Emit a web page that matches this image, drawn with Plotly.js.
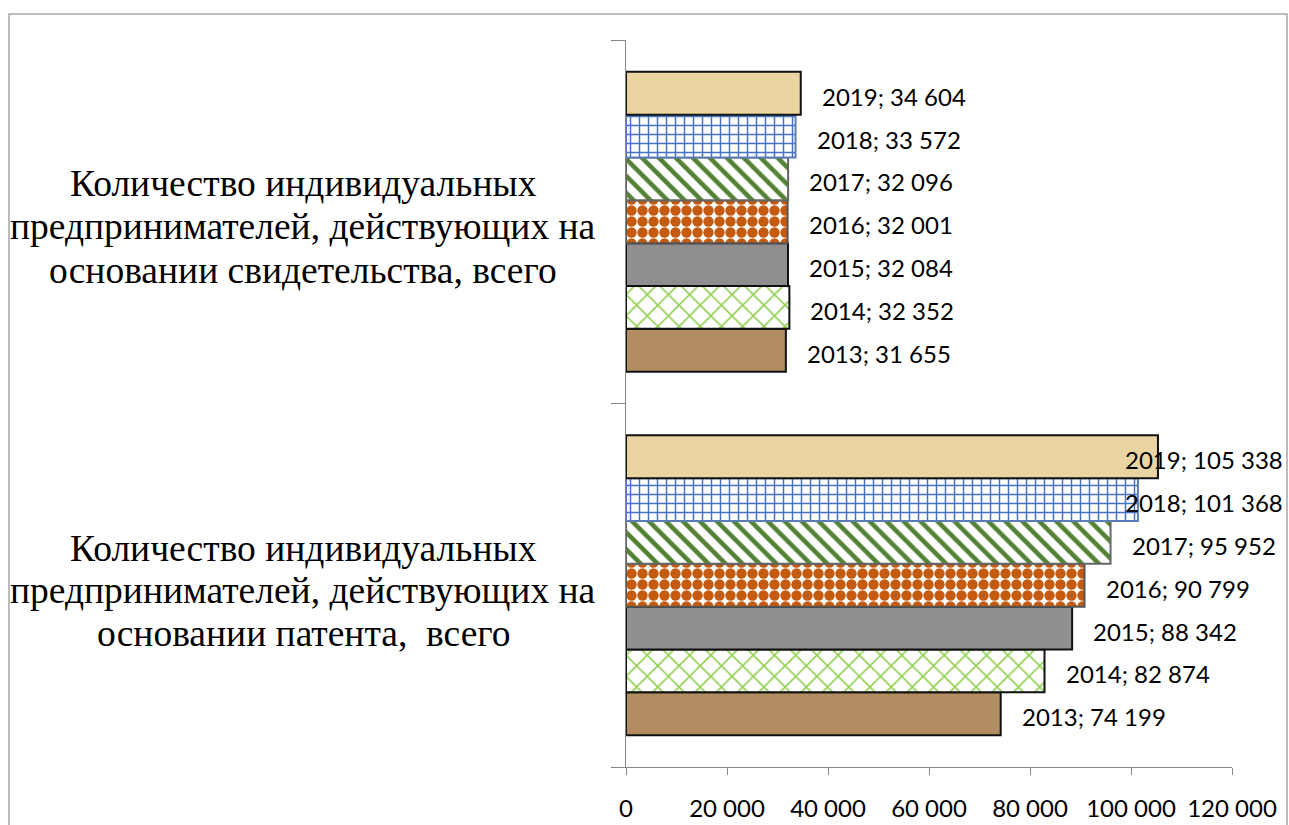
<!DOCTYPE html>
<html><head><meta charset="utf-8">
<script src="https://cdn.plot.ly/plotly-3.0.1.min.js"></script>
<style>html,body{margin:0;padding:0;background:#fff}#chart{width:1289px;height:825px}</style>
</head><body><div id="chart"></div>
<script>
// ---- data ----
const years = ['2013', '2014', '2015', '2016', '2017', '2018', '2019'];
const categories = [
  'Количество индивидуальных предпринимателей, действующих на основании патента, всего',
  'Количество индивидуальных предпринимателей, действующих на основании свидетельства, всего'
];
const categoryLines = [
  ['Количество индивидуальных', 'предпринимателей, действующих на', 'основании патента,  всего'],
  ['Количество индивидуальных', 'предпринимателей, действующих на', 'основании свидетельства, всего']
];
const patentValues = [74199, 82874, 88342, 90799, 95952, 101368, 105338];
const certificateValues = [31655, 32352, 32084, 32001, 32096, 33572, 34604];
const xTickValues = [0, 20000, 40000, 60000, 80000, 100000, 120000];

// ---- styles ----
const W = 1289, H = 825;
const M = {l: 626, r: 57, t: 40, b: 58};
const plotW = W - M.l - M.r, plotH = H - M.t - M.b;
const xMax = 120000;
const barGap = 0.175;
const labelFont = 'Lato';
const labelSize = 24;
const serif = 'Liberation Serif, Times New Roman, serif';

const styles = [
  {color: '#B38D62', line: '#111', pattern: {shape: ''}},
  {color: '#FFFFFF', line: '#111', pattern: {shape: 'x', fgcolor: '#92D050', bgcolor: '#FFFFFF', size: 15, solidity: 0.2, fillmode: 'replace'}},
  {color: '#8F8F8F', line: '#111', pattern: {shape: ''}},
  {color: '#FFFFFF', line: '#555', pattern: {shape: '.', fgcolor: '#C55A11', bgcolor: '#FFFFFF', size: 11, solidity: 0.7, fillmode: 'replace'}},
  {color: '#FFFFFF', line: '#666', pattern: {shape: '\\', fgcolor: '#548235', bgcolor: '#FFFFFF', size: 12, solidity: 0.38, fillmode: 'replace'}},
  {color: '#FFFFFF', line: '#5B7DB5', pattern: {shape: '+', fgcolor: '#4472C4', bgcolor: '#FFFFFF', size: 9, solidity: 0.3, fillmode: 'replace'}},
  {color: '#EAD4A2', line: '#111', pattern: {shape: ''}}
];

function fmt(v) { return String(v).replace(/\B(?=(\d{3})+(?!\d))/g, ' '); }

const traces = years.map((yr, i) => ({
  type: 'bar', orientation: 'h', name: yr,
  y: categories,
  x: [patentValues[i], certificateValues[i]],
  marker: {color: styles[i].color, line: {color: styles[i].line, width: 2}, pattern: styles[i].pattern},
  hoverinfo: 'x+name'
}));

// measure label widths
const cv = document.createElement('canvas').getContext('2d');
cv.font = labelSize + 'px ' + labelFont;
const rightLimit = W - 4; // chart area right edge in px

const annotations = [];
const seriesByCat = [patentValues, certificateValues];
const barW = (1 - barGap) / years.length;
seriesByCat.forEach((vals, ci) => {
  vals.forEach((v, i) => {
    const text = years[i] + '; ' + fmt(v);
    const yPos = ci - (1 - barGap) / 2 + (i + 0.5) * barW;
    const endPx = M.l + v / xMax * plotW;
    const w = cv.measureText(text).width;
    const offset = 19;
    const base = {text: text, showarrow: false, yref: 'y', y: yPos, yshift: -3,
      font: {family: labelFont, size: labelSize, color: '#000'}};
    if (endPx + offset + w > rightLimit) {
      annotations.push(Object.assign(base, {xref: 'paper', x: 1, xanchor: 'right', xshift: rightLimit - (M.l + plotW)}));
    } else {
      annotations.push(Object.assign(base, {xref: 'x', x: v, xanchor: 'left', xshift: offset}));
    }
  });
});

// category labels (centered, 3 lines each)
const catCenterX = (303 - M.l) / plotW;
const lineShifts = [[37, -5, -48], [38.5, -4.5, -48.5]];
categoryLines.forEach((lines, ci) => {
  lines.forEach((ln, li) => {
    annotations.push({text: ln, showarrow: false, xref: 'paper', x: catCenterX, xanchor: 'center',
      yref: 'y', y: ci, yshift: lineShifts[ci][li],
      font: {family: serif, size: 37.5, color: '#000'}});
  });
});

const layout = {
  width: W, height: H,
  margin: M,
  paper_bgcolor: '#fff', plot_bgcolor: '#fff',
  barmode: 'group', bargap: barGap, bargroupgap: 0,
  showlegend: false,
  separators: ', ',
  xaxis: {
    range: [0, xMax], tickvals: xTickValues, tickformat: ',d',
    ticks: 'outside', ticklen: 7, tickcolor: '#868686', tickwidth: 1,
    showline: true, linecolor: '#868686', linewidth: 1,
    showgrid: false, zeroline: false,
    ticklabelstandoff: 13,
    tickfont: {family: labelFont, size: labelSize, color: '#000'}
  },
  yaxis: {
    type: 'category', categoryarray: categories, range: [-0.5, 1.5],
    showline: true, linecolor: '#868686', linewidth: 1,
    ticks: 'outside', tickson: 'boundaries', ticklen: 14, tickcolor: '#868686',
    showticklabels: false, showgrid: false, zeroline: false
  },
  annotations: annotations,
  shapes: [{
    type: 'rect', xref: 'paper', yref: 'paper',
    x0: (9 - M.l) / plotW, x1: (1287 - M.l) / plotW,
    y0: -0.2, y1: (H - M.b - 14) / plotH,
    line: {color: '#A6A6A6', width: 1.5}, fillcolor: 'rgba(0,0,0,0)'
  }]
};

Plotly.newPlot('chart', traces, layout, {displayModeBar: false, staticPlot: true});
</script>
</body></html>
